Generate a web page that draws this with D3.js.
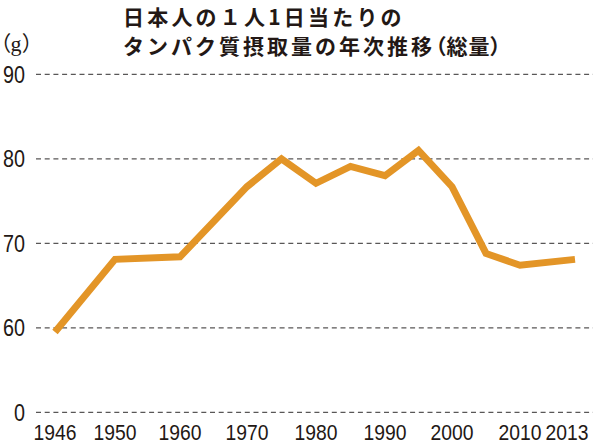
<!DOCTYPE html>
<html>
<head>
<meta charset="utf-8">
<script src="https://cdn.jsdelivr.net/npm/d3@7"></script>
<style>
  body { margin: 0; background: #fff; }
  #chart { width: 597px; height: 445px; }
  .palt { font-feature-settings: "palt" 1; }
</style>
</head>
<body>
<div id="chart"></div>
<script>
// data: protein intake per person per day (g)
var years = [1946, 1950, 1960, 1970, 1975, 1980, 1985, 1990, 1995, 2000, 2005, 2010, 2013];
var protein = [59.5, 68.1, 68.4, 76.7, 80.0, 77.1, 79.1, 78.0, 81.0, 76.7, 68.8, 67.4, 68.1];

var yearTicks = [1946, 1950, 1960, 1970, 1980, 1990, 2000, 2010, 2013];
var valueTicks = [50, 60, 70, 80, 90];   // 50 is drawn as "0" (broken axis)
var valueLabels = ["0", "60", "70", "80", "90"];

var titleLine1 = "日本人の１人1日当たりの";
var titleLine2 = "タンパク質摂取量の年次推移";
var titleNote = "（総量）";

function main() {
    var width = 597, height = 445;

    var svg = d3.select("#chart")
        .append("svg")
        .attr("width", width)
        .attr("height", height);

    // x: year ticks are not evenly spaced in time, so use a piecewise scale
    var x = d3.scaleLinear()
        .domain(yearTicks)
        .range([55, 115, 180, 247, 316, 385, 452, 520, 575]);

    // y: 0 sits where 50 would be
    var y = d3.scaleLinear()
        .domain([50, 90])
        .range([412.3, 74.3]);

    var numFont = "'Liberation Sans', Arial, sans-serif";
    var jpFont = "'Noto Sans CJK JP', sans-serif";
    var ink = "#231815";

    // gridlines
    svg.append("g")
        .selectAll("line")
        .data(valueTicks)
        .enter()
        .append("line")
        .attr("x1", 36)
        .attr("x2", 593)
        .attr("y1", d => y(d))
        .attr("y2", d => y(d))
        .attr("stroke", "#595757")
        .attr("stroke-width", 1.2)
        .attr("stroke-dasharray", "5,3.7");

    // y labels (condensed digits)
    svg.append("g")
        .selectAll("text")
        .data(valueTicks)
        .enter()
        .append("text")
        .attr("x", 25)
        .attr("y", d => y(d))
        .attr("dy", "0.36em")
        .attr("text-anchor", "end")
        .attr("textLength", (d, i) => valueLabels[i].length * 11)
        .attr("lengthAdjust", "spacingAndGlyphs")
        .style("font-family", numFont)
        .style("font-size", "23px")
        .style("fill", ink)
        .text((d, i) => valueLabels[i]);

    // x labels (last one kept inside the right edge)
    svg.append("g")
        .selectAll("text")
        .data(yearTicks)
        .enter()
        .append("text")
        .attr("x", d => Math.min(x(d), width - 30))
        .attr("y", 440)
        .attr("text-anchor", "middle")
        .attr("textLength", 43)
        .attr("lengthAdjust", "spacingAndGlyphs")
        .style("font-family", numFont)
        .style("font-size", "22px")
        .style("fill", ink)
        .text(d => d);

    // line
    var line = d3.line()
        .x((d, i) => x(years[i]))
        .y(d => y(d));

    svg.append("path")
        .datum(protein)
        .attr("d", line)
        .attr("fill", "none")
        .attr("stroke", "#e39527")
        .attr("stroke-width", 7)
        .attr("stroke-linejoin", "miter");

    // unit (g)
    var unit = svg.append("text")
        .attr("class", "palt")
        .attr("x", 0)
        .attr("y", 51)
        .style("font-family", jpFont)
        .style("font-size", "21px")
        .style("fill", ink);
    unit.append("tspan").text("（");
    unit.append("tspan")
        .style("font-family", "'Liberation Serif', serif")
        .style("font-size", "22px")
        .text("g");
    unit.append("tspan").attr("dx", 1).text("）");

    // title
    var title = svg.append("g")
        .style("font-family", jpFont)
        .style("font-size", "21px")
        .style("font-weight", "bold")
        .style("fill", ink);

    title.append("text")
        .attr("x", 123)
        .attr("y", 24.5)
        .style("letter-spacing", "3.2px")
        .text(titleLine1);

    var t2 = title.append("text")
        .attr("x", 123)
        .attr("y", 53.5);
    t2.append("tspan")
        .style("letter-spacing", "3px")
        .text(titleLine2);
    t2.append("tspan")
        .attr("class", "palt")
        .style("letter-spacing", "1px")
        .text(titleNote);
}

main();
</script>
</body>
</html>
